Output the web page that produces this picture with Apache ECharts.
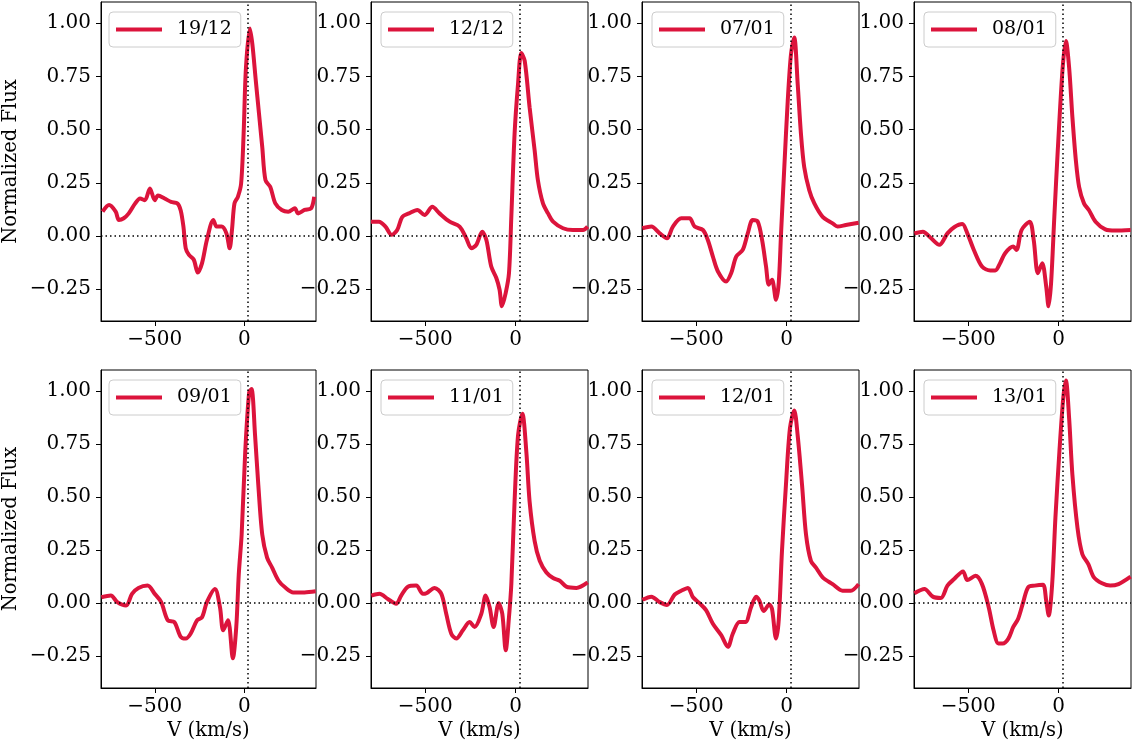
<!DOCTYPE html>
<html>
<head>
<meta charset="utf-8">
<script src="https://cdn.jsdelivr.net/npm/echarts@6/dist/echarts.min.js"></script>
<style>
  html, body { margin: 0; padding: 0; background: #fff; }
  #main { width: 1133px; height: 742px; }
</style>
</head>
<body>
<div id="main"></div>
<script>
// observation dates, one panel each
var dates = ["19/12", "12/12", "07/01", "08/01", "09/01", "11/01", "12/01", "13/01"];

// [velocity km/s, normalized flux]
var p1912 = [[-791,0.114],[-755,0.145],[-718,0.114],[-700,0.075],[-673,0.083],[-645,0.106],[-609,0.153],[-582,0.176],[-555,0.168],[-527,0.223],[-500,0.168],[-482,0.19],[-445,0.176],[-409,0.16],[-373,0.153],[-355,0.12],[-340,0.044],[-327,-0.058],[-309,-0.089],[-282,-0.112],[-260,-0.172],[-236,-0.128],[-209,-0.019],[-173,0.075],[-155,0.044],[-127,0.044],[-100,0.012],[-82,-0.058],[-69,0.028],[-55,0.153],[-36,0.184],[-18,0.246],[-4,0.48],[9,0.79],[31,0.975],[45,0.9],[64,0.73],[82,0.574],[100,0.418],[118,0.262],[145,0.23],[173,0.153],[209,0.122],[245,0.114],[282,0.13],[300,0.106],[336,0.122],[373,0.13],[390,0.184]];
var p1212 = [[-800,0.067],[-756,0.067],[-720,0.044],[-686,0.005],[-655,0.028],[-627,0.09],[-590,0.106],[-544,0.122],[-504,0.098],[-461,0.137],[-421,0.106],[-365,0.067],[-310,0.044],[-273,-0.011],[-245,-0.058],[-218,-0.042],[-185,0.02],[-162,-0.019],[-135,-0.144],[-107,-0.198],[-89,-0.253],[-76,-0.331],[-55,-0.268],[-37,-0.175],[-24,0.09],[-6,0.48],[13,0.714],[31,0.86],[50,0.823],[77,0.605],[105,0.402],[123,0.262],[151,0.153],[179,0.106],[207,0.067],[262,0.036],[317,0.028],[373,0.028],[398,0.044]];
var p0701 = [[-798,0.036],[-748,0.044],[-702,0.012],[-662,-0.011],[-629,0.044],[-583,0.083],[-537,0.083],[-509,0.044],[-463,0.028],[-436,-0.019],[-408,-0.097],[-380,-0.167],[-335,-0.214],[-307,-0.175],[-279,-0.097],[-243,-0.066],[-215,0.012],[-188,0.075],[-160,0.067],[-136,-0.019],[-114,-0.144],[-99,-0.229],[-81,-0.206],[-59,-0.3],[-44,-0.222],[-31,0.012],[-13,0.324],[6,0.636],[24,0.855],[42,0.933],[61,0.714],[79,0.48],[97,0.324],[125,0.215],[153,0.153],[199,0.09],[254,0.059],[281,0.044],[327,0.051],[398,0.062]];
var p0801 = [[-798,0.012],[-751,0.02],[-705,-0.011],[-660,-0.042],[-615,0.012],[-578,0.041],[-533,0.056],[-505,0.012],[-469,-0.066],[-424,-0.144],[-378,-0.162],[-351,-0.162],[-324,-0.128],[-296,-0.081],[-251,-0.05],[-233,-0.066],[-205,0.028],[-160,0.067],[-138,-0.019],[-115,-0.175],[-91,-0.128],[-69,-0.237],[-56,-0.331],[-42,-0.222],[-24,0.09],[-5,0.402],[22,0.79],[40,0.917],[58,0.79],[76,0.558],[95,0.356],[113,0.231],[140,0.153],[167,0.122],[204,0.067],[258,0.031],[313,0.025],[398,0.028]];
var p0901 = [[-798,0.028],[-745,0.036],[-709,0.005],[-660,-0.011],[-627,0.044],[-591,0.072],[-540,0.083],[-500,0.044],[-464,0.005],[-427,-0.081],[-391,-0.089],[-355,-0.159],[-327,-0.167],[-300,-0.144],[-264,-0.081],[-236,-0.066],[-209,0.005],[-164,0.067],[-136,-0.019],[-118,-0.128],[-91,-0.081],[-64,-0.26],[-45,-0.112],[-31,0.137],[-15,0.324],[5,0.714],[27,0.995],[40,1.01],[60,0.79],[78,0.558],[100,0.324],[127,0.215],[155,0.168],[191,0.106],[227,0.075],[273,0.051],[336,0.051],[398,0.056]];
var p1101 = [[-798,0.036],[-753,0.044],[-707,0.02],[-661,-0.003],[-633,0.036],[-596,0.078],[-550,0.083],[-513,0.044],[-494,0.047],[-448,0.072],[-411,0.044],[-384,-0.05],[-356,-0.144],[-328,-0.167],[-292,-0.128],[-255,-0.089],[-227,-0.112],[-190,-0.05],[-166,0.036],[-144,-0.019],[-122,-0.112],[-94,0],[-74,-0.05],[-55,-0.222],[-37,-0.066],[-24,0.09],[-6,0.48],[13,0.79],[37,0.894],[59,0.714],[77,0.48],[105,0.293],[133,0.2],[170,0.145],[207,0.119],[244,0.106],[280,0.078],[336,0.072],[398,0.098]];
var p1201 = [[-798,0.016],[-748,0.031],[-702,0.005],[-662,-0.008],[-619,0.041],[-583,0.059],[-546,0.072],[-518,0.028],[-482,0],[-445,-0.034],[-408,-0.097],[-362,-0.151],[-325,-0.206],[-298,-0.144],[-261,-0.089],[-228,-0.089],[-197,-0.019],[-169,0.031],[-151,0.012],[-127,-0.037],[-96,-0.006],[-81,-0.027],[-59,-0.167],[-44,-0.081],[-26,0.246],[-4,0.558],[18,0.824],[42,0.909],[61,0.79],[85,0.558],[107,0.324],[134,0.2],[162,0.168],[199,0.122],[254,0.09],[309,0.059],[355,0.059],[398,0.09]];
var p1301 = [[-798,0.047],[-742,0.067],[-696,0.031],[-651,0.025],[-615,0.083],[-578,0.114],[-529,0.15],[-505,0.109],[-460,0.129],[-424,0.09],[-387,-0.019],[-360,-0.128],[-333,-0.19],[-309,-0.19],[-278,-0.167],[-251,-0.112],[-224,-0.073],[-196,0.005],[-169,0.075],[-133,0.083],[-87,0.087],[-69,0.012],[-55,-0.058],[-36,0.09],[-18,0.402],[4,0.714],[25,0.964],[40,1.05],[58,0.87],[76,0.605],[104,0.356],[131,0.231],[164,0.184],[195,0.122],[240,0.094],[285,0.083],[331,0.09],[398,0.125]];

var profiles = [p1912, p1212, p0701, p0801, p0901, p1101, p1201, p1301];
var xTicks = [-500, 0];
var yTicks = [-0.25, 0, 0.25, 0.5, 0.75, 1.0];
var vLine = 20;

var myChart = echarts.init(document.getElementById('main'), null, { renderer: 'canvas' });

var colLeft = [99, 371, 642, 914];
var rowTop = [2, 370];
var panelW = 217, panelH = 319;
var font = 'DejaVu Serif';
var fs = 20;

function minus(s) { return String(s).replace('-', '\u2212'); }

var grid = [], xAxis = [], yAxis = [], series = [], legend = [];
for (var i = 0; i < 8; i++) {
	var c = i % 4, r = Math.floor(i / 4);
	grid.push({
		left: colLeft[c], top: rowTop[r], width: panelW, height: panelH,
		show: true, borderColor: '#000', borderWidth: 1, backgroundColor: '#fff'
	});
	xAxis.push({
		gridIndex: i, type: 'value', min: -800, max: 400,
		name: r == 1 ? 'V (km/s)' : '', nameLocation: 'middle', nameGap: 33,
		nameTextStyle: { fontFamily: font, fontSize: 19.5, color: '#000' },
		axisLine: { show: true, onZero: false, lineStyle: { color: '#000', width: 1 } },
		axisTick: { show: true, length: 5, customValues: xTicks, lineStyle: { color: '#000' } },
		axisLabel: { customValues: xTicks, margin: 9, fontFamily: font, fontSize: fs, color: '#000',
			formatter: function (v) { return minus(v); } },
		splitLine: { show: false }
	});
	yAxis.push({
		gridIndex: i, type: 'value', min: -0.4, max: 1.1,
		name: c == 0 ? 'Normalized Flux' : '', nameLocation: 'middle', nameGap: 80,
		nameTextStyle: { fontFamily: font, fontSize: 19.5, color: '#000' },
		axisLine: { show: true, onZero: false, lineStyle: { color: '#000', width: 1 } },
		axisTick: { show: true, length: 5, customValues: yTicks, lineStyle: { color: '#000' } },
		axisLabel: { customValues: yTicks, margin: 10, fontFamily: font, fontSize: fs, color: '#000',
			formatter: function (v) { return minus(v.toFixed(2)); } },
		splitLine: { show: false }
	});
	series.push({
		name: dates[i], type: 'line', xAxisIndex: i, yAxisIndex: i,
		data: profiles[i], showSymbol: false, symbol: 'none', smooth: 0.3,
		lineStyle: { color: '#DC143C', width: 4 }, itemStyle: { color: '#DC143C' },
		markLine: {
			silent: true, symbol: 'none', label: { show: false },
			lineStyle: { color: '#000', type: [1.5, 3], width: 1.5 },
			data: [{ yAxis: 0 }, { xAxis: vLine }]
		},
		z: 3
	});
	legend.push({
		data: [dates[i]], left: colLeft[c] + 10, top: rowTop[r] + 10,
		icon: 'rect', itemWidth: 46, itemHeight: 4, itemGap: 10,
		padding: [8, 9, 8, 7], borderColor: '#cccccc', borderWidth: 1, borderRadius: 4,
		backgroundColor: 'rgba(255,255,255,0.8)',
		textStyle: { fontFamily: font, fontSize: 19, color: '#000', padding: [0, 0, 0, 10] }
	});
}

var option = {
	animation: false,
	backgroundColor: '#fff',
	grid: grid, xAxis: xAxis, yAxis: yAxis, legend: legend, series: series
};
myChart.setOption(option);
</script>
</body>
</html>
